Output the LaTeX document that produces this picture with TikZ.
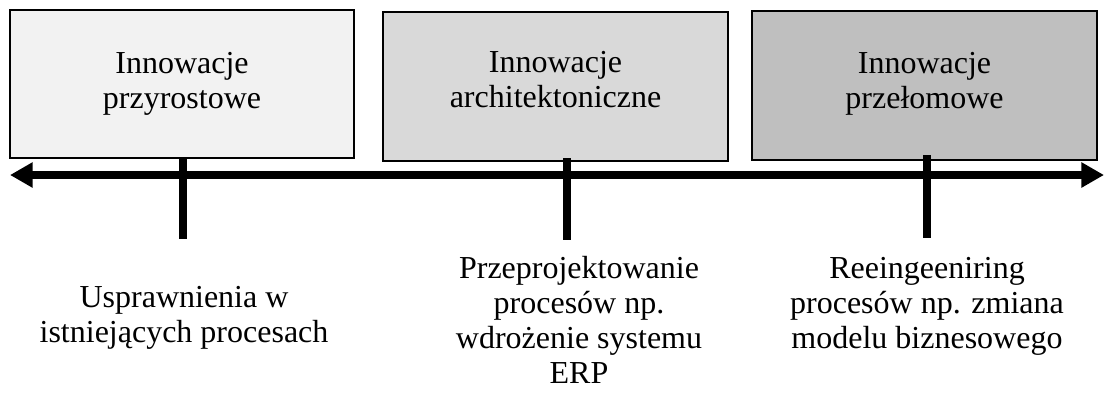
\documentclass[tikz,border=0pt]{standalone}
\usepackage{fontspec}
\setmainfont{Liberation Serif}
\usetikzlibrary{arrows.meta}

\definecolor{fillA}{RGB}{242,242,242}
\definecolor{fillB}{RGB}{217,217,217}
\definecolor{fillC}{RGB}{191,191,191}

\tikzset{every picture/.style={line width=0.75pt}}
\tikzset{
  innbox/.style={draw, line width=1.5, minimum width=258.5pt, minimum height=111.5pt, inner sep=0pt},
  boxtxt/.style={align=center, inner sep=0pt, font=\fontsize{24}{26.25}\selectfont},
  lowtxt/.style={align=center, inner sep=0pt, font=\fontsize{24}{26.25}\selectfont},
  axisline/.style={line width=6, {Triangle[length=17pt,width=18pt]}-{Triangle[length=17pt,width=18pt]}},
  tickline/.style={line width=6}
}

\begin{document}
\begin{tikzpicture}[x=0.75pt,y=0.75pt,yscale=-1,xscale=1]
\useasboundingbox (0,0) rectangle (1105,415);

% boxes
\node [innbox, fill=fillA] (b1) at (182,84) {};
\node [innbox, fill=fillB] (b2) at (555.5,86.5) {};
\node [innbox, fill=fillC] (b3) at (924.5,85.5) {};

\node [boxtxt] (t1) at (182,84) {Innowacje\\przyrostowe};
\node [boxtxt] (t2) at (555.5,80) {Innowacje\\architektoniczne};
\node [boxtxt] (t3) at (924.5,84) {Innowacje\\przełomowe};

% axis
\coordinate (axL) at (10,175);
\coordinate (axR) at (1104,175);
\draw [axisline] (axL) -- (axR);

% ticks
\coordinate (k1t) at (183,159);
\coordinate (k1b) at (183,239);
\coordinate (k2t) at (567,158);
\coordinate (k2b) at (567,240);
\coordinate (k3t) at (927,155);
\coordinate (k3b) at (927,238);
\draw [tickline] (k1t) -- (k1b);
\draw [tickline] (k2t) -- (k2b);
\draw [tickline] (k3t) -- (k3b);

% labels below the axis
\node [lowtxt] (l1) at (184,318) {Usprawnienia w\\istniejących procesach};
\node [lowtxt] (l2) at (579,320) {Przeprojektowanie\\procesów np.\\wdrożenie systemu\\ERP};
\node [lowtxt] (l3) at (927,306) {Reeingeeniring\\procesów np. zmiana\\modelu biznesowego};
\end{tikzpicture}
\end{document}
